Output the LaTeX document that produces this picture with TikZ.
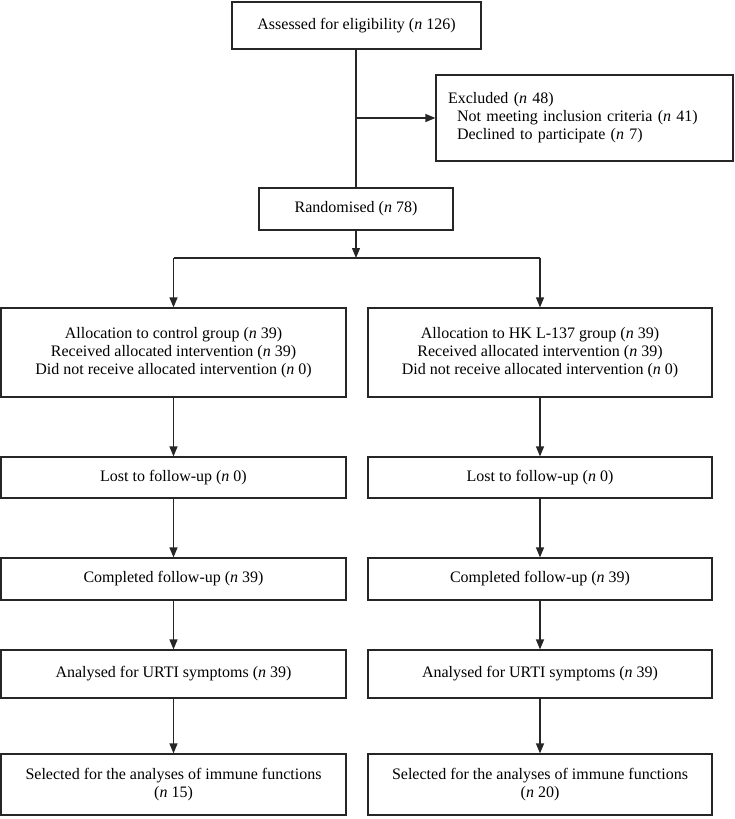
\documentclass[tikz,border=0pt]{standalone}
\usepackage{fontspec}
\setmainfont{Liberation Serif}
\usetikzlibrary{arrows.meta}
\tikzset{
  box/.style={draw=black!85, line width=1.2pt, inner sep=0pt, align=center,
    font=\fontsize{16}{18}\selectfont},
  link/.style={draw=black!85, line width=1.2pt}
}
\begin{document}
\begin{tikzpicture}[x=1pt, y=-1pt]
      \useasboundingbox (0,0) rectangle (735,819);
      \node[box, minimum width=249, minimum height=47] (assess) at (356.5,25.5)
        {Assessed for eligibility (\textit{n} 126)};
      \node[box, minimum width=297, minimum height=86, text width=273, align=left, inner xsep=12] (excl) at (584.5,118)
        {Excluded (\textit{n} 48)\\
         \hspace*{9pt}Not meeting inclusion criteria (\textit{n} 41)\\
         \hspace*{9pt}Declined to participate (\textit{n} 7)};
      \node[box, minimum width=194, minimum height=42] (rand) at (356,209)
        {Randomised (\textit{n} 78)};
      \node[box, minimum width=345, minimum height=89] (allocC) at (173.5,352.5)
        {Allocation to control group (\textit{n} 39)\\
         Received allocated intervention (\textit{n} 39)\\
         Did not receive allocated intervention (\textit{n} 0)};
      \node[box, minimum width=344, minimum height=89] (allocH) at (540,352.5)
        {Allocation to HK L-137 group (\textit{n} 39)\\
         Received allocated intervention (\textit{n} 39)\\
         Did not receive allocated intervention (\textit{n} 0)};
      \node[box, minimum width=345, minimum height=41] (lostC) at (173.5,477.5)
        {Lost to follow-up (\textit{n} 0)};
      \node[box, minimum width=344, minimum height=41] (lostH) at (540,477.5)
        {Lost to follow-up (\textit{n} 0)};
      \node[box, minimum width=345, minimum height=42] (compC) at (173.5,579)
        {Completed follow-up (\textit{n} 39)};
      \node[box, minimum width=344, minimum height=42] (compH) at (540,579)
        {Completed follow-up (\textit{n} 39)};
      \node[box, minimum width=345, minimum height=48] (anaC) at (173.5,674)
        {Analysed for URTI symptoms (\textit{n} 39)};
      \node[box, minimum width=344, minimum height=48] (anaH) at (540,674)
        {Analysed for URTI symptoms (\textit{n} 39)};
      \node[box, minimum width=345, minimum height=61] (selC) at (173.5,784.5)
        {Selected for the analyses of immune functions\\(\textit{n} 15)};
      \node[box, minimum width=344, minimum height=61] (selH) at (540,784.5)
        {Selected for the analyses of immune functions\\(\textit{n} 20)};
      \coordinate (split) at (356,258);
      \begin{scope}[link]
        \draw (rand.north |- assess.south) to (rand.north);
        \draw (split -| allocC.north) to (split -| allocH.north);
      \end{scope}
      \begin{scope}[link, -{Triangle[length=10pt,width=8pt]}]
        \draw (rand.north |- excl.west) to (excl.west);
        \draw (rand.south) to (split);
        \draw (split -| allocC.north) to (allocC.north);
        \draw (split -| allocH.north) to (allocH.north);
        \draw (allocC) to (lostC);
        \draw (allocH) to (lostH);
        \draw (lostC) to (compC);
        \draw (lostH) to (compH);
        \draw (compC) to (anaC);
        \draw (compH) to (anaH);
        \draw (anaC) to (selC);
        \draw (anaH) to (selH);
      \end{scope}
    \end{tikzpicture}
\end{document}
